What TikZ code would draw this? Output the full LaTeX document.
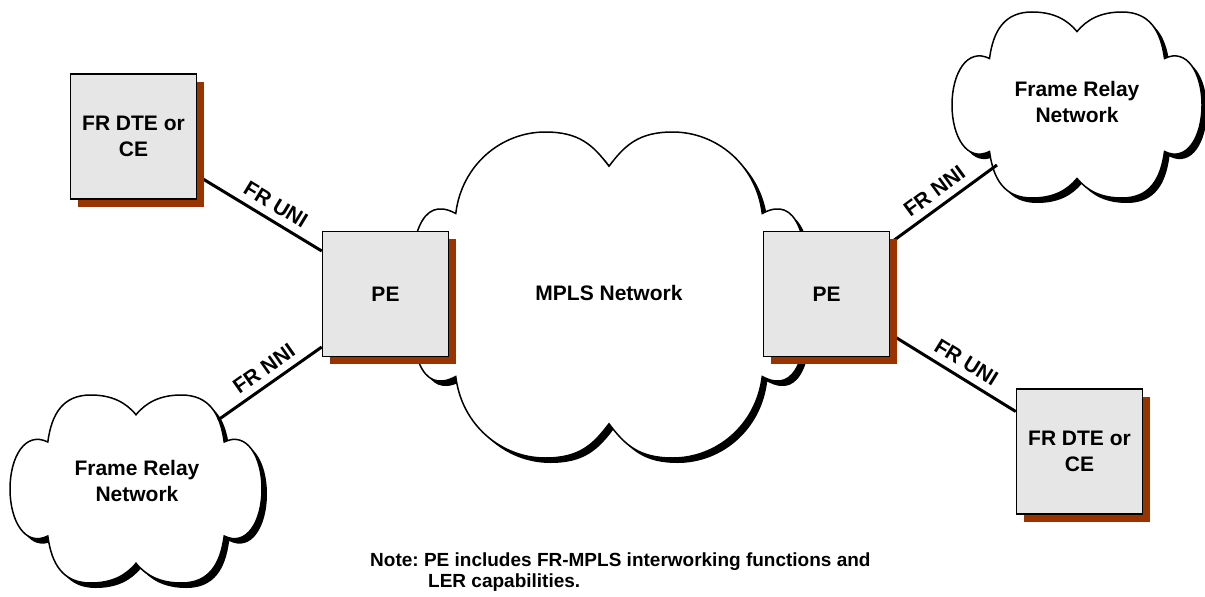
\documentclass[tikz,border=0pt]{standalone}
\usepackage{fontspec}
\setmainfont{Liberation Sans}
\usetikzlibrary{shadows}
\definecolor{boxgray}{HTML}{E6E6E6}
\definecolor{shadowred}{HTML}{993300}
\pgfdeclarelayer{cloudlayer}
\pgfdeclarelayer{linklayer}
\pgfsetlayers{cloudlayer,linklayer,main}
\frenchspacing

\newcommand{\cloudpath}[2]{%
 (0,-0.79) .. controls (-0.08,-0.92) and ({-#2+0.17},-1) .. (-#2,-1)
 .. controls ({-#2-0.22},-1) and ({-#1+0.03},-0.8) .. (-#1,-0.5)
 .. controls ({-#1-0.18},-0.62) and (-1,-0.34) .. (-1,0)
 .. controls (-1,0.34) and ({-#1-0.18},0.62) .. (-#1,0.5)
 .. controls ({-#1+0.03},0.8) and ({-#2-0.22},1) .. (-#2,1)
 .. controls ({-#2+0.17},1) and (-0.08,0.92) .. (0,0.79)
 .. controls (0.08,0.92) and ({#2-0.17},1) .. (#2,1)
 .. controls ({#2+0.22},1) and ({#1-0.03},0.8) .. (#1,0.5)
 .. controls ({#1+0.18},0.62) and (1,0.34) .. (1,0)
 .. controls (1,-0.34) and ({#1+0.18},-0.62) .. (#1,-0.5)
 .. controls ({#1-0.03},-0.8) and ({#2+0.22},-1) .. (#2,-1)
 .. controls ({#2-0.17},-1) and (0.08,-0.92) .. (0,-0.79) -- cycle}

\newcommand{\netcloud}[6]{%
 \fill[black, shift={({#1+5},{#2+5})}, xscale=#3, yscale=#4] \cloudpath{#5}{#6};
 \filldraw[fill=white, draw=black, line width=1.5pt, shift={(#1,#2)}, xscale=#3, yscale=#4] \cloudpath{#5}{#6};
}

\begin{document}
\begin{tikzpicture}[x=1pt, y=-1pt,
  netbox/.style={draw=black, line width=1.5pt, fill=boxgray,
    minimum width=126pt, minimum height=125pt, inner sep=0pt, align=center,
    font=\fontsize{21}{26}\selectfont\bfseries,
    copy shadow={shadow xshift=7.5pt, shadow yshift=-7.5pt, fill=shadowred, draw=none}},
  cloudtext/.style={align=center, inner sep=0pt, font=\fontsize{21}{26}\selectfont\bfseries},
  link/.style={draw=black, line width=3pt},
  lbl/.style={font=\fontsize{21}{26}\selectfont\bfseries, inner sep=1pt, sloped, above=6pt}
]
\useasboundingbox (0,0) rectangle (1205,597);

\begin{pgfonlayer}{cloudlayer}
  \netcloud{609}{295}{199}{163}{0.77}{0.32}
  \netcloud{1077}{105}{125}{93}{0.70}{0.36}
  \netcloud{136}{489}{126}{94}{0.70}{0.36}
\end{pgfonlayer}

\node[cloudtext] (mpls) at (609,293) {MPLS Network};
\node[cloudtext] (frnR) at (1077,102) {Frame Relay\\Network};
\node[cloudtext] (frnL) at (137,481) {Frame Relay\\Network};

\coordinate (nniL) at (218,420);
\coordinate (nniR) at (997,165);

\node[netbox] (fr1) at (133.5,136.5) {FR DTE or\\CE};
\node[netbox] (pe1) at (385.5,294) {PE};
\node[netbox] (pe2) at (826.5,294) {PE};
\node[netbox] (fr2) at (1079.5,451.5) {FR DTE or\\CE};

\begin{pgfonlayer}{linklayer}
  \draw[link] ([yshift=-39pt]fr1.east) -- node[lbl, pos=0.565] {FR UNI} ([yshift=43pt]pe1.west);
  \draw[link] (nniL) -- node[lbl, pos=0.53] {FR NNI} ([yshift=-53pt]pe1.west);
  \draw[link] ([yshift=51pt]pe2.east) -- node[lbl, pos=0.5] {FR NNI} (nniR);
  \draw[link] ([yshift=-40pt]pe2.east) -- node[lbl, pos=0.54] {FR UNI} ([yshift=40pt]fr2.west);
\end{pgfonlayer}

\node[anchor=north west, align=left, inner sep=0pt, font=\fontsize{19}{21}\selectfont\bfseries] (note) at (370,553)
  {Note: PE includes FR-MPLS interworking functions and\\\hspace*{58pt}LER capabilities.};
\end{tikzpicture}
\end{document}
